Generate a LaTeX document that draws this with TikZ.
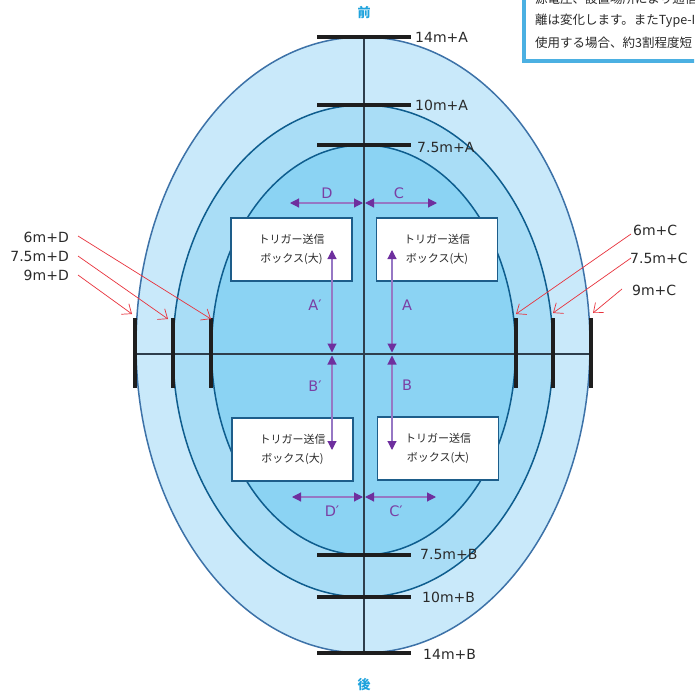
\documentclass[tikz,border=0pt]{standalone}
\usepackage{fontspec}
\setmainfont{DejaVu Sans}
\newfontfamily\jp{Noto Sans CJK JP}
\usetikzlibrary{arrows.meta}
\definecolor{fillA}{HTML}{C9E9FA}
\definecolor{fillB}{HTML}{A9DDF6}
\definecolor{fillC}{HTML}{8BD3F3}
\definecolor{strA}{HTML}{3D72A8}
\definecolor{strB}{HTML}{0E5D8E}
\definecolor{axis}{HTML}{2E3E4C}
\definecolor{barcol}{HTML}{1E1E1E}
\definecolor{redarr}{HTML}{E8323C}
\definecolor{purp}{HTML}{6E2F9E}
\definecolor{purpline}{HTML}{9677C4}
\definecolor{purptext}{HTML}{7A3FA4}
\definecolor{cyanlab}{HTML}{1FA3DD}
\definecolor{noteline}{HTML}{4BB0E2}
\definecolor{boxline}{HTML}{1D5D8A}
\definecolor{txt}{HTML}{2A2A2A}
\begin{document}
\begin{tikzpicture}[x=1pt,y=-1pt,
  distlabel/.style={font=\fontsize{14}{16}\selectfont, text=txt, inner sep=0pt},
  plabel/.style={font=\fontsize{14.5}{16}\selectfont, text=purptext, inner sep=0pt},
  dirlabel/.style={font=\jp\bfseries\fontsize{13}{15}\selectfont, text=cyanlab, inner sep=0pt},
  notetext/.style={font=\jp\fontsize{12.5}{14}\selectfont, text=txt, inner sep=0pt, anchor=west},
  tbox/.style={draw=boxline, line width=1.4pt, fill=white, minimum width=121pt,
    minimum height=63pt, align=center, font=\jp\fontsize{11}{18.5}\selectfont,
    text=txt, inner sep=0pt},
  barline/.style={line width=4pt, draw=barcol},
  axisline/.style={line width=1.2pt, draw=axis},
  redarrow/.style={draw=redarr, line width=0.7pt,
    -{Straight Barb[length=8pt,width=13pt,line width=0.7pt]}},
  parrow/.style={draw=purpline, line width=1.1pt,
    {Triangle[length=9pt,width=9pt,color=purp]}-{Triangle[length=9pt,width=9pt,color=purp]}}
]
\useasboundingbox (0,0) rectangle (694,699);
\clip (0,0) rectangle (694,699);
\fill[white] (0,0) rectangle (694,699);

% zones
\draw[fill=fillA, draw=strA, line width=1.5pt] (363,345) ellipse [x radius=227pt, y radius=308pt];
\draw[fill=fillB, draw=strB, line width=1.5pt] (363,351) ellipse [x radius=190pt, y radius=246pt];
\draw[fill=fillC, draw=strB, line width=1.5pt] (363.5,350) ellipse [x radius=152pt, y radius=205pt];

% axes
\coordinate (vt) at (364,37);
\coordinate (vb) at (364,653);
\coordinate (hl) at (135,354);
\coordinate (hr) at (591,354);
\draw[axisline] (vt) -- (vb);
\draw[axisline] (hl) -- (hr);

% front/back bars
\foreach \y/\n in {37/t14,105/t10,145/t75,555/b75,597/b10,653/b14}{
  \coordinate (\n L) at (317,\y);
  \coordinate (\n R) at (411,\y);
  \draw[barline] (\n L) -- (\n R);
}
% side bars
\foreach \x/\n in {135/l9,173/l75,211/l6,516/r6,553/r75,591/r9}{
  \coordinate (\n T) at (\x,318);
  \coordinate (\n B) at (\x,388);
  \draw[barline] (\n T) -- (\n B);
}

% distance labels
\node[distlabel, anchor=west] (lt14) at (415,37) {14m+A};
\node[distlabel, anchor=west] (lt10) at (415,105) {10m+A};
\node[distlabel, anchor=west] (lt75) at (417,147) {7.5m+A};
\node[distlabel, anchor=west] (lb75) at (420,554) {7.5m+B};
\node[distlabel, anchor=west] (lb10) at (422,597) {10m+B};
\node[distlabel, anchor=west] (lb14) at (423,654) {14m+B};

\node[distlabel, anchor=east] (ll6) at (69,237) {6m+D};
\node[distlabel, anchor=east] (ll75) at (69,256) {7.5m+D};
\node[distlabel, anchor=east] (ll9) at (69,275) {9m+D};
\node[distlabel, anchor=west] (lr6) at (633,230) {6m+C};
\node[distlabel, anchor=west] (lr75) at (630,258) {7.5m+C};
\node[distlabel, anchor=west] (lr9) at (632,290) {9m+C};

% red arrows
\coordinate (sl6) at (78,236);
\coordinate (sl75) at (78,256);
\coordinate (sl9) at (78,275);
\coordinate (el6) at (211,319);
\coordinate (el75) at (168,319);
\coordinate (el9) at (132,314);
\coordinate (sr6) at (631,234);
\coordinate (sr75) at (631,258);
\coordinate (sr9) at (622,289);
\coordinate (er6) at (516,314);
\coordinate (er75) at (553,313);
\coordinate (er9) at (593,313);
\draw[redarrow] (sl6) -- (el6);
\draw[redarrow] (sl75) -- (el75);
\draw[redarrow] (sl9) -- (el9);
\draw[redarrow] (sr6) -- (er6);
\draw[redarrow] (sr75) -- (er75);
\draw[redarrow] (sr9) -- (er9);

% trigger boxes
\node[tbox] (ul) at (291.5,249.5) {トリガー送信\\ボックス(大)};
\node[tbox] (ur) at (437,249.5) {トリガー送信\\ボックス(大)};
\node[tbox] (ll) at (292.5,449.5) {トリガー送信\\ボックス(大)};
\node[tbox] (lr) at (438,448.5) {トリガー送信\\ボックス(大)};

% purple measurement arrows
\coordinate (dL) at (290,203);
\coordinate (dR) at (363,203);
\coordinate (cL) at (365,203);
\coordinate (cR) at (437,203);
\coordinate (dpL) at (292,497);
\coordinate (dpR) at (363,497);
\coordinate (cpL) at (365,497);
\coordinate (cpR) at (436,497);
\coordinate (apT) at (332,250);
\coordinate (apB) at (332,352.5);
\coordinate (aT) at (392,250);
\coordinate (aB) at (392,352.5);
\coordinate (bpT) at (332,355.5);
\coordinate (bpB) at (332,450);
\coordinate (bT) at (392,355.5);
\coordinate (bB) at (392,450);
\draw[parrow] (dL) -- (dR);
\draw[parrow] (cL) -- (cR);
\draw[parrow] (dpL) -- (dpR);
\draw[parrow] (cpL) -- (cpR);
\draw[parrow] (apT) -- (apB);
\draw[parrow] (aT) -- (aB);
\draw[parrow] (bpT) -- (bpB);
\draw[parrow] (bT) -- (bB);

\node[plabel] (tD) at (327,193) {D};
\node[plabel] (tC) at (399,193) {C};
\node[plabel] (tDp) at (332,511) {D′};
\node[plabel] (tCp) at (396,511) {C′};
\node[plabel] (tAp) at (315,305) {A′};
\node[plabel] (tA) at (407,305) {A};
\node[plabel] (tBp) at (315,386) {B′};
\node[plabel] (tB) at (407,385) {B};

% front / back
\node[dirlabel] (front) at (364,13) {前};
\node[dirlabel] (back) at (364,685) {後};

% note box (cut off)
\draw[draw=noteline, fill=white, line width=3.5pt] (524,-20) rectangle (730,61);
\node[notetext] (n1) at (535,-1) {源電圧、設置場所により通信距};
\node[notetext] (n2) at (535,21) {離は変化します。またType-I};
\node[notetext] (n3) at (535,43) {使用する場合、約3割程度短};
\end{tikzpicture}
\end{document}
